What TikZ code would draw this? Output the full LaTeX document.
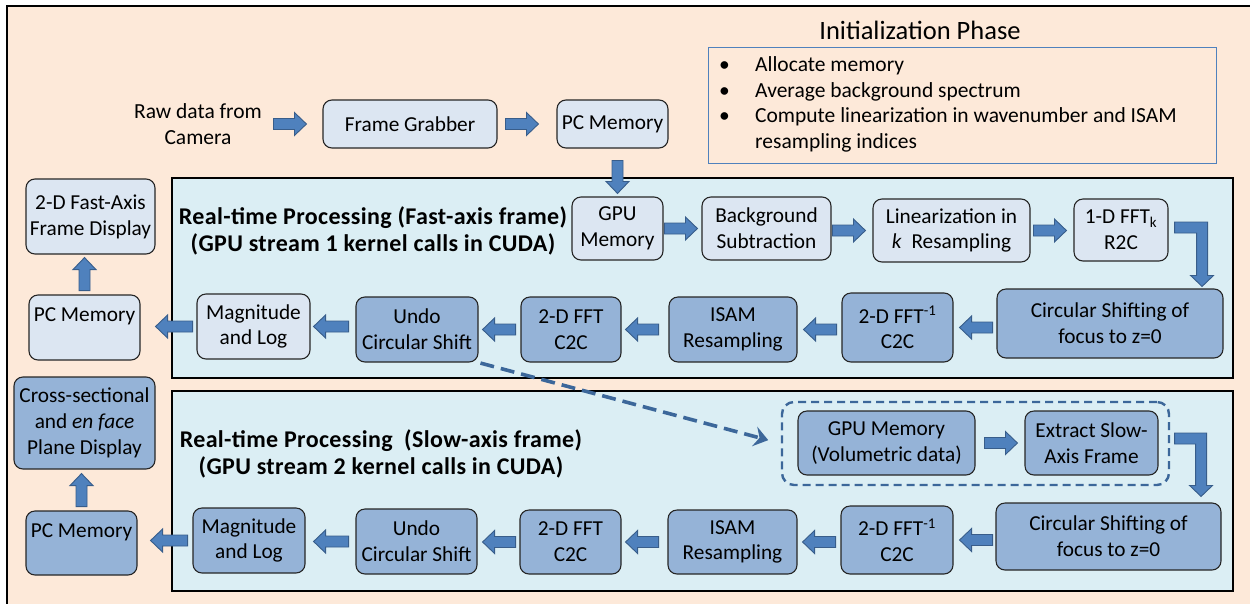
\documentclass[tikz,border=0pt]{standalone}
\usepackage{fontspec}
\setmainfont{Carlito}
\usetikzlibrary{calc,arrows.meta}
\definecolor{peach}{HTML}{FDE9D9}
\definecolor{panelc}{HTML}{DBEEF4}
\definecolor{lightnode}{HTML}{DCE6F2}
\definecolor{darknode}{HTML}{95B3D7}
\definecolor{arrfill}{HTML}{4F81BD}
\definecolor{arrdraw}{HTML}{385D8A}
\definecolor{dashc}{HTML}{3C679A}
\definecolor{boxline}{HTML}{262626}
\definecolor{initline}{HTML}{4F81BD}
\newcommand\blkarr[4][33pt]{%
  \coordinate (ba) at (#2);
  \coordinate (bb) at (#3);
  \coordinate (bt) at ($(bb)!#4!(ba)$);
  \coordinate (bs) at ($(bb)!#4+#1!(ba)$);
  \coordinate (bh) at ($(bt)!12pt!(bs)$);
  \filldraw[blockarrow] ($(bs)!5.5pt!90:(bt)$) -- ($(bh)!5.5pt!-90:(bs)$) -- ($(bh)!11.5pt!-90:(bs)$) -- (bt) -- ($(bh)!11.5pt!90:(bs)$) -- ($(bh)!5.5pt!90:(bs)$) -- ($(bs)!5.5pt!-90:(bt)$) -- cycle;}
\begin{document}
\begin{tikzpicture}[x=1pt,y=-1pt,
  lbox/.style={draw=boxline, line width=1.1pt, rounded corners=9pt, fill=lightnode, align=center, inner sep=0pt, font=\fontsize{21.3}{25.8}\selectfont},
  dbox/.style={lbox, fill=darknode},
  panel/.style={draw=black, line width=1.1pt, fill=panelc, inner sep=0pt},
  blockarrow/.style={fill=arrfill, draw=arrdraw, line width=0.9pt, line join=miter},
  titletext/.style={align=center, inner sep=0pt, font=\fontsize{24}{27}\selectfont\bfseries\addfontfeature{LetterSpace=1.5}},
  dasharrow/.style={draw=dashc, line width=3.6pt, dash pattern=on 14pt off 7pt, -{Stealth[length=14pt,width=20pt,inset=5pt]}},
  dashbox/.style={draw=dashc, line width=2.4pt, dash pattern=on 8pt off 5pt, rounded corners=12pt, inner sep=0pt}]
\clip (0,0) rectangle (1250,603);
\fill[white] (0,0) rectangle (1250,603);
\filldraw[fill=peach, draw=black, line width=1.2pt] (7,6) rectangle (1265,618);

% initialization phase
\node[inner sep=0pt, font=\fontsize{26.5}{30}\selectfont] (inittitle) at (920,30) {Initialization Phase};
\node[draw=initline, line width=1pt, minimum width=508pt, minimum height=116pt, inner sep=0pt] (initbox) at (962,105) {};
\node[anchor=west, inner sep=0pt, font=\fontsize{21.5}{25.7}\selectfont] (initlist) at (719,105) {%
  \begin{tabular}{@{}p{36pt}@{}l@{}}
  \textbullet & Allocate memory\\
  \textbullet & Average background spectrum\\
  \textbullet & Compute linearization in wavenumber and ISAM\\
  & resampling indices
  \end{tabular}};

% top row
\node[align=center, inner sep=0pt, font=\fontsize{21.5}{25.5}\selectfont] (raw) at (198,124) {Raw data from\\Camera};
\node[lbox, minimum width=174pt, minimum height=48pt] (fg) at (410,124) {Frame Grabber};
\node[lbox, minimum width=111pt, minimum height=48pt] (pcm) at (612.5,124) {PC Memory};

% panels
\node[panel, minimum width=1061pt, minimum height=200pt] (panelf) at (702.5,278) {};
\node[panel, minimum width=1061pt, minimum height=200pt] (panels) at (702.5,491) {};

\node[titletext] (titlef) at (373,231) {Real-time Processing (Fast-axis frame)\\(GPU stream 1 kernel calls in CUDA)};
\node[titletext] (titles) at (381,453.5) {Real-time Processing\ \ (Slow-axis frame)\\(GPU stream 2 kernel calls in CUDA)};

% fast-axis nodes
\node[lbox, minimum width=91pt, minimum height=63pt] (gpu) at (617.5,228.5) {GPU\\Memory};
\node[lbox, minimum width=129pt, minimum height=63pt] (bg) at (766.5,228.5) {Background\\Subtraction};
\node[lbox, minimum width=157pt, minimum height=63pt] (lin) at (951.5,230.5) {Linearization in\\\textit{k}\ \ Resampling};
\node[lbox, minimum width=94pt, minimum height=62pt] (fft1) at (1121,230) {1-D FFT\textsubscript{k}\\R2C};
\node[dbox, minimum width=226pt, minimum height=69pt] (circf) at (1110,323.5) {Circular Shifting of\\focus to z=0};
\node[dbox, minimum width=111pt, minimum height=69pt] (fftif) at (897.5,327.5) {2-D FFT\textsuperscript{-1}\\C2C};
\node[dbox, minimum width=128pt, minimum height=65pt] (isamf) at (733,329.5) {ISAM\\Resampling};
\node[dbox, minimum width=100pt, minimum height=65pt] (fftf) at (571,329.5) {2-D FFT\\C2C};
\node[dbox, minimum width=122pt, minimum height=65pt] (undof) at (417,329.5) {Undo\\Circular Shift};
\node[lbox, minimum width=113pt, minimum height=65pt] (magf) at (253.5,326.5) {Magnitude\\and Log};
\node[lbox, minimum width=111pt, minimum height=65pt] (pcmf) at (84.5,327.5) {PC Memory\\\phantom{X}};
\node[lbox, minimum width=129pt, minimum height=75pt] (disp) at (90.5,216.5) {2-D Fast-Axis\\Frame Display};

% slow-axis nodes
\node[dashbox, minimum width=387pt, minimum height=83pt] (cont) at (975.5,443.5) {};
\node[dbox, minimum width=177pt, minimum height=64pt] (gpuv) at (886.5,443) {GPU Memory\\(Volumetric data)};
\node[dbox, minimum width=133pt, minimum height=64pt] (ext) at (1091.5,443) {Extract Slow-\\Axis Frame};
\node[dbox, minimum width=225pt, minimum height=67pt] (circs) at (1108.5,536.5) {Circular Shifting of\\focus to z=0};
\node[dbox, minimum width=112pt, minimum height=68pt] (fftis) at (897,540) {2-D FFT\textsuperscript{-1}\\C2C};
\node[dbox, minimum width=129pt, minimum height=64pt] (isams) at (732.5,542) {ISAM\\Resampling};
\node[dbox, minimum width=101pt, minimum height=64pt] (ffts) at (570.5,542) {2-D FFT\\C2C};
\node[dbox, minimum width=121pt, minimum height=65pt] (undos) at (416.5,541.5) {Undo\\Circular Shift};
\node[dbox, minimum width=112pt, minimum height=65pt] (mags) at (249,540.5) {Magnitude\\and Log};
\node[dbox, minimum width=111pt, minimum height=64pt] (pcms) at (81.5,543) {PC Memory\\\phantom{X}};
\node[dbox, minimum width=141pt, minimum height=92pt] (cross) at (84.5,423) {Cross-sectional\\and \textit{en face}\\Plane Display};

% block arrows
\blkarr{raw.east}{fg.west|-raw.east}{16pt}
\blkarr{fg.east}{pcm.west}{18pt}
\blkarr{pcm.south-|gpu.north}{gpu.north}{3pt}
\blkarr{gpu.east}{bg.west}{4pt}
\blkarr{bg.east|-lin.west}{lin.west}{7pt}
\blkarr{lin.east}{fft1.west|-lin.east}{7pt}
\blkarr{circf.west|-fftif.west}{fftif.east}{6pt}
\blkarr{fftif.east|-isamf.west}{isamf.east}{6pt}
\blkarr{isamf.west}{fftf.east}{4pt}
\blkarr{fftf.west}{undof.east}{4pt}
\blkarr[35pt]{undof.west|-magf.east}{magf.east}{3pt}
\blkarr[37pt]{magf.west}{pcmf.east|-magf.west}{15pt}
\blkarr{pcmf.north}{disp.south-|pcmf.north}{3pt}

\blkarr{gpuv.east}{ext.west}{7pt}
\blkarr{circs.west|-fftis.east}{fftis.east}{6pt}
\blkarr{fftis.west|-isams.east}{isams.east}{5pt}
\blkarr{isams.west}{ffts.east}{4pt}
\blkarr{ffts.west}{undos.east|-ffts.west}{5pt}
\blkarr[35pt]{undos.west}{mags.east|-undos.west}{8pt}
\blkarr[37pt]{mags.west}{pcms.east|-mags.west}{13pt}
\blkarr{pcms.north}{cross.south-|pcms.north}{4pt}

% bent arrows
\filldraw[blockarrow] let \p1=(fft1.east), \p2=(circf.north east) in
  ({\x1+6pt},{\y1+8pt}) -- ({\x2-16pt},{\y1+8pt}) -- ({\x2-16pt},{\y2+13pt}) -- ({\x2-10pt},{\y2+13pt}) -- ({\x2-21.5pt},{\y2+2pt}) -- ({\x2-33pt},{\y2+13pt}) -- ({\x2-27pt},{\y2+13pt}) -- ({\x2-27pt},{\y1-3pt}) -- ({\x1+6pt},{\y1-3pt}) -- cycle;
\filldraw[blockarrow] let \p1=(ext.east), \p2=(circs.north east) in
  ({\x1+16pt},{\y1+10pt}) -- ({\x2-15pt},{\y1+10pt}) -- ({\x2-15pt},{\y2+17pt}) -- ({\x2-9pt},{\y2+17pt}) -- ({\x2-20.5pt},{\y2+6pt}) -- ({\x2-32pt},{\y2+17pt}) -- ({\x2-26pt},{\y2+17pt}) -- ({\x2-26pt},{\y1-1pt}) -- ({\x1+16pt},{\y1-1pt}) -- cycle;

% dashed arrow
\draw[dasharrow, shorten >=13pt, shorten <=2pt] (undof.south east) -- (cont.west);
\end{tikzpicture}
\end{document}
